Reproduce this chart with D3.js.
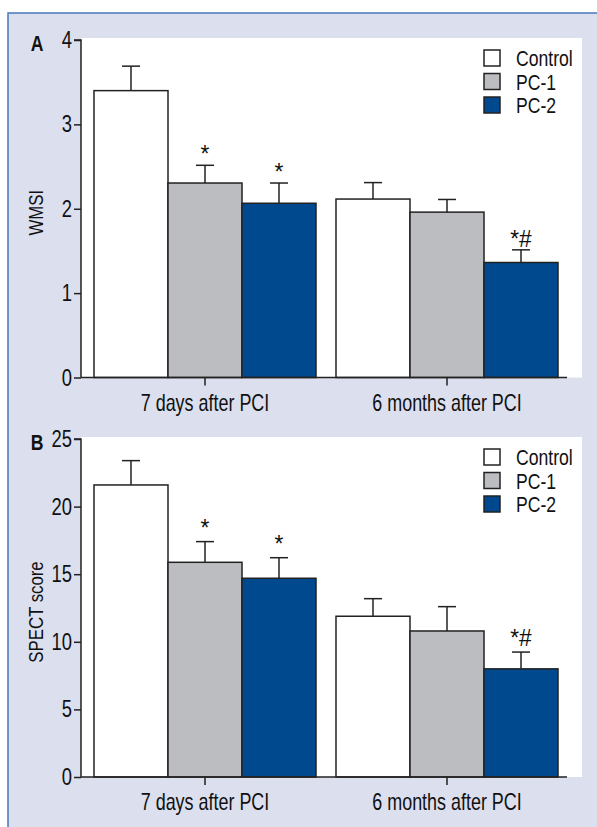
<!DOCTYPE html>
<html>
<head>
<meta charset="utf-8">
<script src="https://cdn.jsdelivr.net/npm/d3@7"></script>
<style>
  html, body { margin: 0; padding: 0; background: #ffffff; }
  svg { display: block; }
  text { font-family: "Liberation Sans", Arial, Helvetica, sans-serif; fill: #111; }
</style>
</head>
<body>
<svg id="chart" width="597" height="827"></svg>
<script>
// ---------- data ----------
const groups = ["7 days after PCI", "6 months after PCI"];
const series = ["Control", "PC-1", "PC-2"];

const wmsiControl = [3.40, 2.115];
const wmsiPC1     = [2.305, 1.96];
const wmsiPC2     = [2.065, 1.363];
const wmsiControlErr = [0.29, 0.195];
const wmsiPC1Err     = [0.21, 0.15];
const wmsiPC2Err     = [0.24, 0.15];
const wmsiMarks = [["", "*", "*"], ["", "", "*#"]];
const wmsiTicks = [0, 1, 2, 3, 4];

const spectControl = [21.6, 11.89];
const spectPC1     = [15.88, 10.8];
const spectPC2     = [14.7, 8.0];
const spectControlErr = [1.8, 1.3];
const spectPC1Err     = [1.53, 1.8];
const spectPC2Err     = [1.52, 1.24];
const spectMarks = [["", "*", "*"], ["", "", "*#"]];
const spectTicks = [0, 5, 10, 15, 20, 25];

const colors = ["#ffffff", "#bcbdc1", "#00498f"];

// ---------- drawing ----------
const svg = d3.select("#chart");
const SX = 0.8; // horizontal condensing of text

svg.append("rect").attr("x", 8).attr("y", 13).attr("width", 620).attr("height", 830)
  .attr("fill", "#dcdfee").attr("stroke", "#4a78bd").attr("stroke-width", 1.5);

function ctext(g, x, y, str, size, anchor, opts = {}) {
  const sx = opts.sx || SX;
  const t = g.append("text")
    .attr("transform", `translate(${x},${y})` + (opts.rot ? ` rotate(${opts.rot})` : "") + ` scale(${sx},1)`)
    .attr("text-anchor", anchor)
    .attr("font-size", size)
    .text(str);
  if (opts.bold) t.attr("font-weight", "bold");
  return t;
}

function drawPanel(cfg) {
  const g = svg.append("g");
  const left = 81, right = 567;
  const y = d3.scaleLinear().domain([0, cfg.max]).range([cfg.bottom, cfg.top]);

  // white plot area
  g.append("rect").attr("x", left).attr("y", cfg.top - 2)
    .attr("width", 582 - left).attr("height", cfg.bottom - cfg.top + 2).attr("fill", "#ffffff");

  const x0 = d3.scaleBand().domain(groups).range([left, 571])
    .paddingInner(0.0826).paddingOuter(0.0537);
  const x1 = d3.scaleBand().domain(series).range([0, x0.bandwidth()]).padding(0);

  const means = cfg.means, errs = cfg.errs;
  groups.forEach((grp, gi) => {
    series.forEach((s, si) => {
      const v = means[si][gi], e = errs[si][gi];
      const bx = x0(grp) + x1(s);
      const cx = bx + x1.bandwidth() / 2;
      // error bar (upper only)
      g.append("line").attr("x1", cx).attr("x2", cx).attr("y1", y(v)).attr("y2", y(v + e))
        .attr("stroke", "#222").attr("stroke-width", 1.5);
      g.append("line").attr("x1", cx - 9).attr("x2", cx + 9).attr("y1", y(v + e)).attr("y2", y(v + e))
        .attr("stroke", "#222").attr("stroke-width", 1.5);
      g.append("rect").attr("x", bx).attr("y", y(v)).attr("width", x1.bandwidth())
        .attr("height", y(0) - y(v)).attr("fill", colors[si])
        .attr("stroke", "#222").attr("stroke-width", 1.5);
      const m = cfg.marks[gi][si];
      if (m) ctext(g, cx, y(v + e) - cfg.markOff, m, 24, "middle", { sx: 0.95 });
    });
  });

  // y axis
  const ya = g.append("g").attr("transform", `translate(${left},0)`)
    .call(d3.axisLeft(y).tickValues(cfg.ticks).tickSize(7).tickFormat(() => ""));
  ya.select(".domain").attr("stroke", "#222").attr("stroke-width", 1.5).attr("d", `M-7,${y(cfg.max)}H0V${y(0)}`);
  ya.selectAll(".tick line").attr("stroke", "#222").attr("stroke-width", 1.5);
  cfg.ticks.forEach(t => ctext(g, 72, y(t) + 8, String(t), 23, "end"));

  // x axis
  const xa = g.append("g").attr("transform", `translate(0,${y(0)})`)
    .call(d3.axisBottom(x0).tickSize(8).tickFormat(() => ""));
  xa.select(".domain").attr("stroke", "#222").attr("stroke-width", 1.5).attr("d", `M${left},0H${right}`);
  xa.selectAll(".tick line").attr("stroke", "#222").attr("stroke-width", 1.5);
  groups.forEach(grp => ctext(g, x0(grp) + x0.bandwidth() / 2, y(0) + 33, grp, 23, "middle", { sx: 0.78 }));

  // axis title
  ctext(g, 43, (cfg.top + cfg.bottom) / 2 + 4, cfg.title, 21, "middle", { rot: -90, sx: 0.8 });

  // panel letter
  ctext(g, 37, cfg.top + 11, cfg.letter, 22, "middle", { bold: true, sx: 0.8 });

  // legend
  series.forEach((s, si) => {
    const ly = cfg.legendTop + si * 23.5;
    g.append("rect").attr("x", 484).attr("y", ly - 8).attr("width", 16).attr("height", 16)
      .attr("fill", colors[si]).attr("stroke", "#222").attr("stroke-width", 1.5);
    ctext(g, 516, ly + 8, s, 22, "start", { sx: 0.8 });
  });
}

drawPanel({
  letter: "A", title: "WMSI", max: 4, top: 40, bottom: 377.5, ticks: wmsiTicks,
  means: [wmsiControl, wmsiPC1, wmsiPC2], errs: [wmsiControlErr, wmsiPC1Err, wmsiPC2Err],
  marks: wmsiMarks, markOff: 3, legendTop: 58
});
drawPanel({
  letter: "B", title: "SPECT score", max: 25, top: 439, bottom: 777, ticks: spectTicks,
  means: [spectControl, spectPC1, spectPC2], errs: [spectControlErr, spectPC1Err, spectPC2Err],
  marks: spectMarks, markOff: 6, legendTop: 457
});
</script>
</body>
</html>
